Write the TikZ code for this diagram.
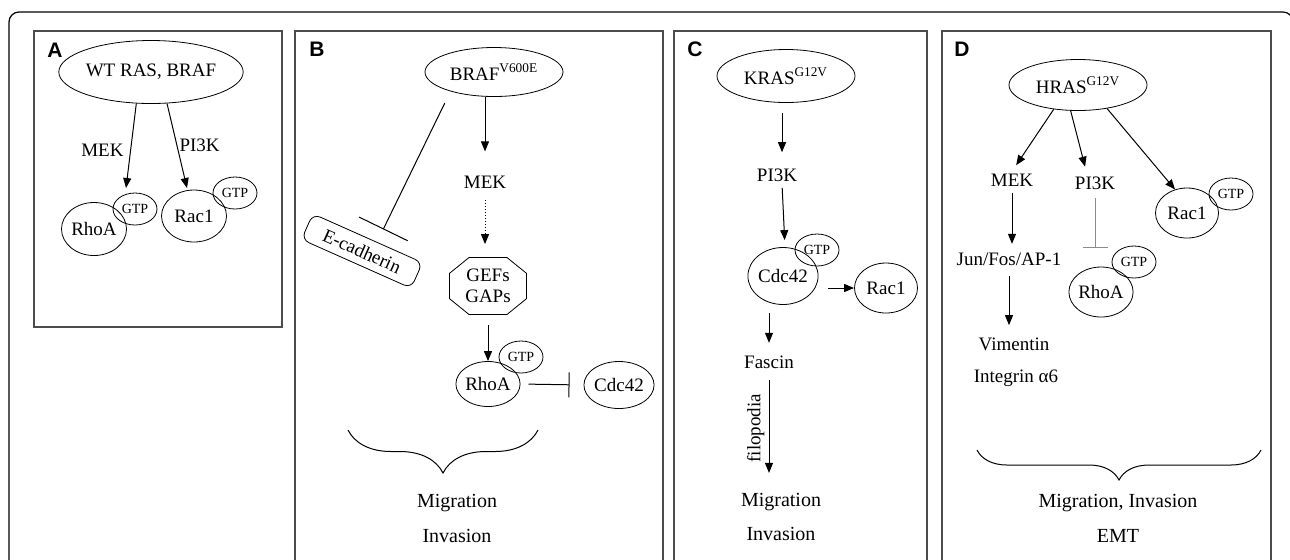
\documentclass[tikz,border=0pt]{standalone}
\usepackage{fontspec}
\setmainfont{Liberation Serif}
\setsansfont{Liberation Sans}
\usetikzlibrary{arrows.meta,shapes,decorations.pathreplacing}

\begin{document}
\begin{tikzpicture}[x=0.5pt, y=-0.5pt,
        font=\fontsize{9.5}{11}\selectfont,
        panel/.style={draw=black!70, line width=0.7pt},
        plabel/.style={font=\sffamily\bfseries\fontsize{10.5}{12}\selectfont},
        mol/.style={ellipse, draw, inner sep=0pt},
        gtp/.style={ellipse, draw, inner sep=0pt, minimum width=22pt, minimum height=16pt, font=\fontsize{7}{8}\selectfont},
        txt/.style={inner sep=1pt},
        outcome/.style={anchor=base, font=\fontsize{10}{12}\selectfont},
        act/.style={-{Triangle[length=5pt, width=4pt]}, line width=0.5pt},
        inhib/.style={-{Bar[width=#1]}, line width=0.5pt},
        inhib/.default=12.5pt,
        curly/.style={decorate, decoration={brace, mirror, amplitude=#1}, line width=0.5pt},
        curly/.default=15pt]
        \useasboundingbox (0,0) rectangle (1290,559);

        % Frame and panels
        \draw[rounded corners=5pt, line width=0.6pt] (9,12) rectangle (1293,620);
        \draw[panel] (34,31) rectangle (282,327);
        \draw[panel] (295,31) rectangle (663,620);
        \draw[panel] (674,31) rectangle (927,620);
        \draw[panel] (942,31) rectangle (1271,620);

        % Panel A
        \node[plabel] (labA) at (55,50) {A};
        \node[mol, minimum width=79pt, minimum height=31.5pt] (wtras) at (151,72) {WT RAS, BRAF};
        \node[mol, minimum width=32.5pt, minimum height=26.5pt] (rhoA) at (94,229) {RhoA};
        \node[gtp] (gtpA1) at (135,209) {GTP};
        \node[mol, minimum width=32.5pt, minimum height=26pt] (racA) at (194,216) {Rac1};
        \node[gtp] (gtpA2) at (235,193) {GTP};
        \coordinate (mekA) at (126,188);
        \coordinate (pikA) at (187,188);
        \draw[act] (wtras.245) -- node[left, pos=0.55] {MEK} (mekA);
        \draw[act] (wtras.297) -- node[right, pos=0.5, inner sep=1pt] {PI3K} (pikA);

        % Panel B
        \node[plabel] (labB) at (317,49) {B};
        \node[mol, minimum width=69pt, minimum height=24.5pt] (braf) at (494,72) {BRAF\textsuperscript{V600E}};
        \node[txt] (mekB) at (485,182) {MEK};
        \node[draw, chamfered rectangle, chamfered rectangle angle=51, chamfered rectangle xsep=6pt,
              minimum width=38.5pt, minimum height=28.5pt, inner sep=0pt, align=center,
              font=\fontsize{9.5}{10.5}\selectfont] (gefs) at (488,286) {GEFs\\GAPs};
        \node[mol, minimum width=32pt, minimum height=22.5pt] (rhoB) at (488,384) {RhoA};
        \node[gtp] (gtpB) at (521,357) {GTP};
        \node[mol, minimum width=32pt, minimum height=23.5pt] (cdcB) at (619,385) {Cdc42};
        \node[draw, rounded corners=4pt, rotate=-24, minimum width=60pt, minimum height=14pt,
              inner sep=2pt] (ecad) at (362,251) {E-cadherin};
        \draw[act, shorten >=11pt] (braf.south -| mekB) -- (mekB.north);
        \draw[act, densely dotted, shorten <=4.8pt, shorten >=6.5pt] (mekB.south) -- (mekB.south |- gefs.north);
        \draw[act, shorten <=5pt] (gefs.south) -- (rhoB.north);
        \draw[inhib, shorten <=4pt, shorten >=7pt] (rhoB.east) -- (cdcB.west);
        \draw[inhib=27pt, shorten <=6.5pt, shorten >=7pt] (braf.204) -- (ecad.55);
        \coordinate (brBl) at (348,430);
        \coordinate (brBr) at (538,430);
        \draw[curly=21.5pt] (brBl) -- (brBr);
        \node[outcome] (migB) at (457,507) {Migration};
        \node[outcome] (invB) at (457,542) {Invasion};

        % Panel C
        \node[plabel] (labC) at (695,49) {C};
        \node[mol, minimum width=69pt, minimum height=26.5pt] (kras) at (786,76) {KRAS\textsuperscript{G12V}};
        \node[txt] (pikC) at (777,175) {PI3K};
        \node[mol, minimum width=30pt, minimum height=28.5pt] (cdcC) at (783,276) {Cdc42};
        \node[gtp] (gtpC) at (817,250) {GTP};
        \node[mol, minimum width=31.5pt, minimum height=25pt] (racC) at (886,288) {Rac1};
        \node[txt] (fascin) at (769,362) {Fascin};
        \node[outcome] (migC) at (781,506) {Migration};
        \node[outcome] (invC) at (781,540) {Invasion};
        \draw[act, shorten <=5pt, shorten >=7pt] ([xshift=-2pt]kras.south) -- ([xshift=-2pt]kras.south |- pikC.north);
        \draw[act, shorten <=2pt, shorten >=3.5pt] ([xshift=2.5pt]pikC.south) -- ([xshift=1pt]cdcC.north);
        \draw[act, shorten <=5pt] (racC.west -| cdcC.east) -- (racC.west);
        \draw[act, shorten <=4.2pt, shorten >=5.2pt] (fascin.north |- cdcC.south) -- (fascin.north);
        \draw[act, shorten <=4.7pt, shorten >=6.4pt] (fascin.south) --
            node[midway, rotate=90, anchor=south, inner sep=2pt] {filopodia} (fascin.south |- migC.north);

        % Panel D
        \node[plabel] (labD) at (962,49) {D};
        \node[mol, minimum width=69pt, minimum height=25.5pt] (hras) at (1078,85) {HRAS\textsuperscript{G12V}};
        \node[txt] (mekD) at (1012,180) {MEK};
        \node[txt] (pikD) at (1095,183) {PI3K};
        \node[mol, minimum width=31.5pt, minimum height=25pt] (racD) at (1187,213) {Rac1};
        \node[gtp] (gtpD2) at (1231,194) {GTP};
        \node[txt] (jun) at (1009,259) {Jun/Fos/AP-1};
        \node[mol, minimum width=31.5pt, minimum height=25pt] (rhoD) at (1101,292) {RhoA};
        \node[gtp] (gtpD1) at (1134,262) {GTP};
        \node[txt] (vim) at (1014,344) {Vimentin};
        \node[txt] (itg) at (1016,378) {Integrin α6};
        \node[outcome] (migD) at (1118,507) {Migration, Invasion};
        \node[outcome] (emt) at (1118,542) {EMT};
        \draw[act, shorten >=3.7pt] (hras.225) -- (mekD.north);
        \draw[act, shorten >=3.9pt] (hras.254) -- ([xshift=-4pt]pikD.north);
        \draw[act] (hras.321) -- (racD.117);
        \draw[act, shorten <=2.3pt, shorten >=3.2pt] (mekD.south) -- (mekD.south |- jun.north);
        \draw[act, shorten <=4pt, shorten >=5pt] (jun.south) -- (jun.south |- vim.north);
        \draw[inhib, draw=black!45, shorten <=3.3pt, shorten >=9.5pt] (pikD.south) -- (pikD.south |- rhoD.north);
        \coordinate (brDl) at (977,450);
        \coordinate (brDr) at (1261,450);
        \draw[curly=15pt] (brDl) -- (brDr);

\end{tikzpicture}
\end{document}
